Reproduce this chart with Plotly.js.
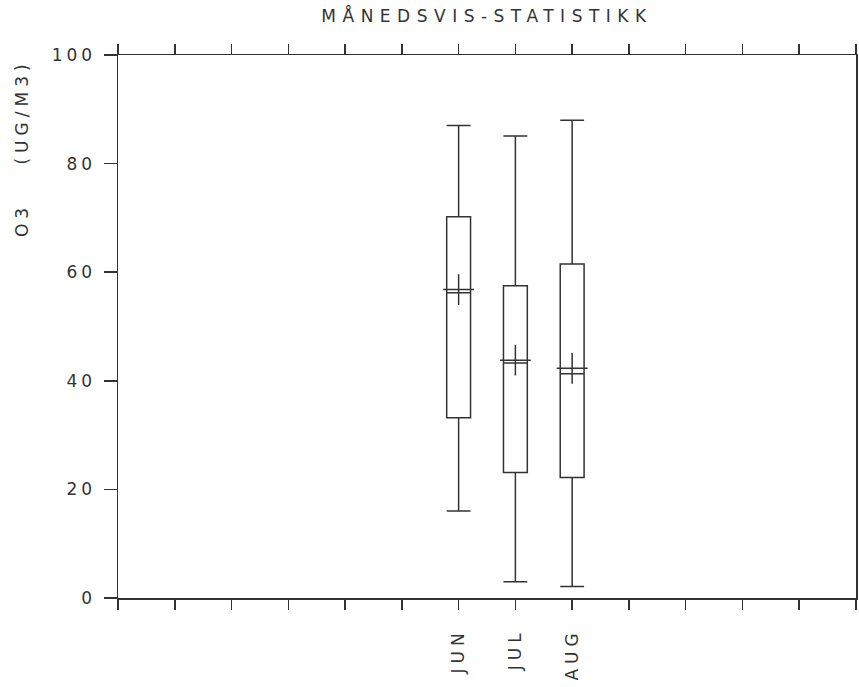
<!DOCTYPE html>
<html>
<head>
<meta charset="utf-8">
<script src="https://cdn.plot.ly/plotly-3.0.1.min.js"></script>
<style>
  html, body { margin: 0; padding: 0; background: #fff; }
  #chart .gtitle { letter-spacing: 6.5px; }
  #chart .xtick text { letter-spacing: 5px; }
  #chart .ytick text { letter-spacing: 4px; }
  #chart .annotation-text { letter-spacing: 5px; }
</style>
</head>
<body>
<div id="chart" style="width:859px;height:687px;"></div>
<script>
// ---- data ----
const allMonths = ['JAN','FEB','MAR','APR','MAI','JUN','JUL','AUG','SEP','OKT','NOV','DES'];
const months    = ['JUN','JUL','AUG'];
const lowerWhisker = [16.0, 3.0, 2.1];
const q1Values     = [33.2, 23.1, 22.2];
const medianValues = [56.2, 43.3, 41.3];
const q3Values     = [70.2, 57.5, 61.5];
const upperWhisker = [87.0, 85.1, 88.0];
const meanValues   = [56.8, 43.8, 42.3];
const yTickValues  = [0, 20, 40, 60, 80, 100];

// ---- derived ----
const xPos = months.map(m => allMonths.indexOf(m) + 1);
const xTickVals = [];
const xTickText = [];
for (let i = 0; i <= allMonths.length + 1; i++) {
  xTickVals.push(i);
  const m = allMonths[i - 1];
  xTickText.push(months.includes(m) ? m : '');
}

const ink = '#333333';
const fontFam = 'DejaVu Sans, sans-serif';
const fs = 17;

const traces = [
  {
    type: 'box',
    x: xPos,
    lowerfence: lowerWhisker,
    q1: q1Values,
    median: medianValues,
    q3: q3Values,
    upperfence: upperWhisker,
    width: 0.42,
    whiskerwidth: 1,
    boxpoints: false,
    fillcolor: 'rgba(0,0,0,0)',
    line: { color: ink, width: 1.5 },
    hoverinfo: 'skip',
    showlegend: false
  },
  {
    type: 'scatter',
    mode: 'markers',
    x: xPos,
    y: meanValues,
    marker: { symbol: 'cross-thin', size: 22, line: { color: ink, width: 1.5 } },
    hoverinfo: 'skip',
    showlegend: false
  }
];

const layout = {
  width: 859,
  height: 687,
  margin: { l: 118, r: 3, t: 55, b: 89, pad: 0 },
  paper_bgcolor: '#ffffff',
  plot_bgcolor: '#ffffff',
  font: { family: fontFam, size: fs, color: ink },
  title: {
    text: 'MÅNEDSVIS-STATISTIKK',
    font: { family: fontFam, size: fs, color: ink },
    x: 0.5, xref: 'paper', xanchor: 'center',
    y: 0.976, yref: 'container', yanchor: 'middle'
  },
  xaxis: {
    range: [0, allMonths.length + 1],
    tickmode: 'array',
    tickvals: xTickVals,
    ticktext: xTickText,
    tickangle: -90,
    ticks: 'outside',
    ticklen: 10,
    tickwidth: 1.5,
    tickcolor: ink,
    showline: true,
    linecolor: ink,
    linewidth: 1.5,
    mirror: 'ticks',
    showgrid: false,
    zeroline: false,
    ticklabelstandoff: 12,
    tickfont: { family: fontFam, size: fs, color: ink },
    automargin: false
  },
  yaxis: {
    range: [0, 100],
    tickmode: 'array',
    tickvals: yTickValues,
    ticks: 'outside',
    ticklen: 13,
    tickwidth: 1.5,
    tickcolor: ink,
    showline: true,
    linecolor: ink,
    linewidth: 1.5,
    mirror: true,
    showgrid: false,
    zeroline: false,
    ticklabelstandoff: 4,
    tickfont: { family: fontFam, size: fs, color: ink },
    automargin: false
  },
  annotations: [
    {
      text: '(UG/M3)', textangle: -90, showarrow: false,
      xref: 'paper', x: 0, xshift: -96, xanchor: 'center',
      yref: 'paper', y: 0.895, yanchor: 'middle',
      font: { family: fontFam, size: fs, color: ink }
    },
    {
      text: 'O3', textangle: -90, showarrow: false,
      xref: 'paper', x: 0, xshift: -96, xanchor: 'center',
      yref: 'paper', y: 0.696, yanchor: 'middle',
      font: { family: fontFam, size: fs, color: ink }
    }
  ]
};

Plotly.newPlot('chart', traces, layout, { displayModeBar: false, staticPlot: true });
</script>
</body>
</html>
